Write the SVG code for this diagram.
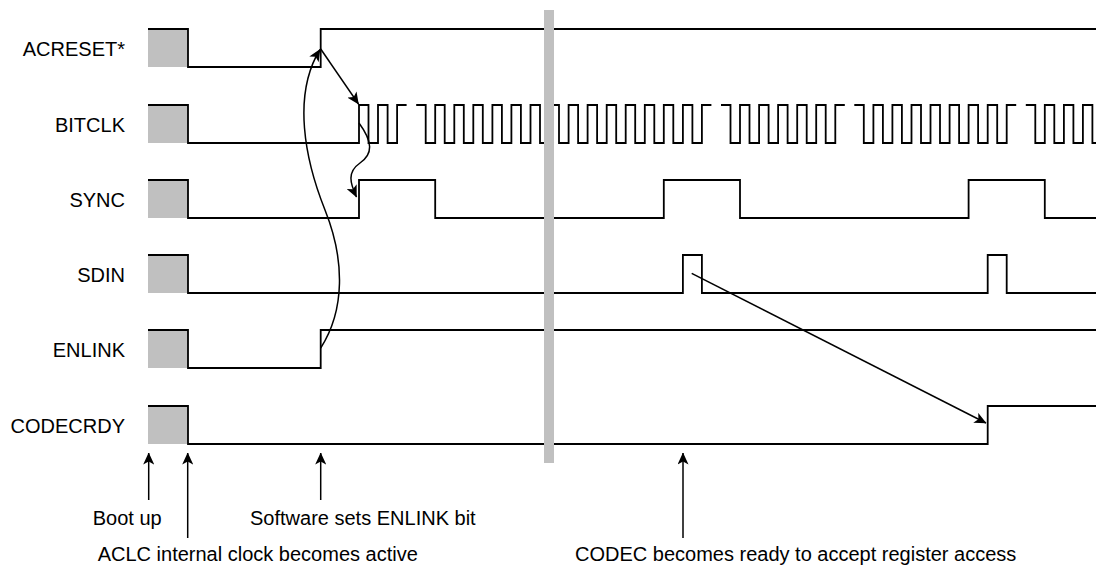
<svg xmlns="http://www.w3.org/2000/svg" width="1096" height="565" viewBox="0 0 1096 565">
<style>
  .lbl { font-family: "Liberation Sans", Arial, sans-serif; font-size: 20px; fill: #000; }
  .end { text-anchor: end; }
  .wave { fill: none; stroke: #000; stroke-width: 1.8; stroke-linejoin: miter; }
  .box { fill: #c0c0c0; stroke: none; }
  .conn { fill: none; stroke: #000; stroke-width: 1.5; marker-end: url(#ah); }
  .bar { fill: #c0c0c0; }
</style>
<defs>
  <marker id="ah" viewBox="0 0 12 11" refX="11.5" refY="5.5" markerWidth="12" markerHeight="11" markerUnits="userSpaceOnUse" orient="auto">
    <path d="M0,0 L12,5.5 L0,11 L3,5.5 z" fill="#000"/>
  </marker>
</defs>
<rect width="1096" height="565" fill="#fff"/>

<g id="acreset">
  <rect class="box" x="148" y="29" width="40" height="38"/>
  <path class="wave" d="M148,29 H188 V67 H320.7 V29 H1096"/>
  <text class="lbl end" x="125" y="56">ACRESET*</text>
</g>
<g id="bitclk">
  <rect class="box" x="148" y="105" width="40" height="38"/>
  <path class="wave" d="M148,105 H188 V143 H359 V105 H368.5 V143 H378 V105 H387.6 V143 H397.1 V105 H406.6 M416.2,105 H425.7 V143 H435.2 V105 H444.7 V143 H454.3 V105 H463.8 V143 H473.3 V105 H482.8 V143 H492.4 V105 H501.9 V143 H511.4 V105 H520.9 V143 H530.5 V105 H540 V143 H549.5 V105 H559 V143 H568.6 V105 H578.1 V143 H587.6 V105 H597.1 V143 H606.7 V105 H616.2 V143 H625.7 V105 H635.2 V143 H644.8 V105 H654.3 V143 H663.8 V105 H673.3 V143 H682.9 V105 H692.4 V143 H701.9 V105 H711.4 M721,105 H730.5 V143 H740 V105 H749.5 V143 H759.1 V105 H768.6 V143 H778.1 V105 H787.6 V143 H797.2 V105 H806.7 V143 H816.2 V105 H825.7 V143 H835.3 V105 H844.8 M854.3,105 H863.8 V143 H873.4 V105 H882.9 V143 H892.4 V105 H901.9 V143 H911.5 V105 H921 V143 H930.5 V105 H940 V143 H949.6 V105 H959.1 V143 H968.6 V105 H978.1 V143 H987.7 V105 H997.2 V143 H1006.7 V105 H1016.2 M1025.8,105 H1035.3 V143 H1044.8 V105 H1054.3 V143 H1063.9 V105 H1073.4 V143 H1082.9 V105 H1092.4 V143 H1096"/>
  <text class="lbl end" x="125" y="132">BITCLK</text>
</g>
<g id="sync">
  <rect class="box" x="148" y="180" width="40" height="38"/>
  <path class="wave" d="M148,180 H188 V218 H359 V180 H435.2 V218 H663.8 V180 H740 V218 H968.6 V180 H1044.8 V218 H1096"/>
  <text class="lbl end" x="125" y="207">SYNC</text>
</g>
<g id="sdin">
  <rect class="box" x="148" y="255" width="40" height="38"/>
  <path class="wave" d="M148,255 H188 V293 H682.9 V255 H701.9 V293 H987.7 V255 H1006.7 V293 H1096"/>
  <text class="lbl end" x="125" y="282">SDIN</text>
</g>
<g id="enlink">
  <rect class="box" x="148" y="330" width="40" height="38"/>
  <path class="wave" d="M148,330 H188 V368 H320.7 V330 H1096"/>
  <text class="lbl end" x="125" y="357">ENLINK</text>
</g>
<g id="codecrdy">
  <rect class="box" x="148" y="406" width="40" height="38"/>
  <path class="wave" d="M148,406 H188 V444 H987.7 V406 H1096"/>
  <text class="lbl end" x="125" y="433">CODECRDY</text>
</g>

<rect id="time-break" class="bar" x="544" y="10" width="10" height="453"/>

<g id="connectors">
  <path class="conn" d="M320.7,49 L358.5,104"/>
  <path class="conn" d="M359,123 C373,142 373,154 360,163 C347,172 350,183 356.5,197"/>
  <path class="conn" d="M320.7,348 C345,310 345,260 325,210 C305,160 292,95 320,49.5"/>
  <path class="conn" d="M691.7,273.3 L986,423"/>
  <path class="conn" d="M148.7,500 V453"/>
  <path class="conn" d="M187.7,538 V453"/>
  <path class="conn" d="M320.7,500 V453"/>
  <path class="conn" d="M683,538 V453"/>
</g>

<g id="annotations">
  <text class="lbl" x="92.7" y="525">Boot up</text>
  <text class="lbl" x="250" y="525">Software sets ENLINK bit</text>
  <text class="lbl" x="97.7" y="561">ACLC internal clock becomes active</text>
  <text class="lbl" x="575" y="561">CODEC becomes ready to accept register access</text>
</g>
</svg>
